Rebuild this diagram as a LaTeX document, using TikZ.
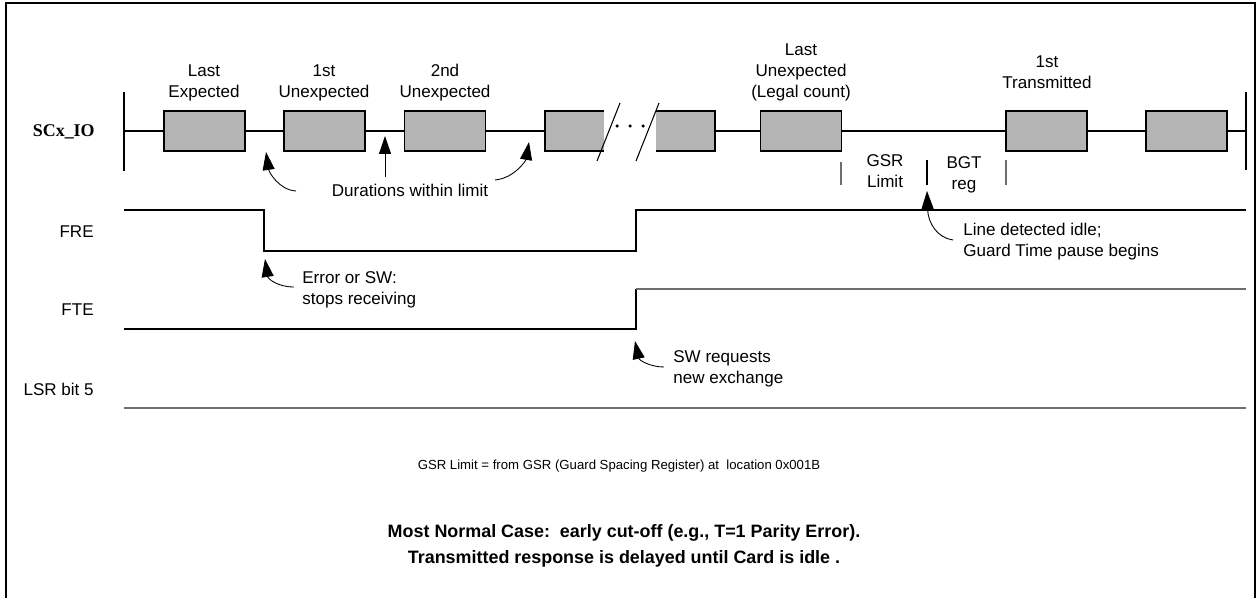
\documentclass[tikz,border=0pt]{standalone}
\usepackage{fontspec}
\setmainfont{Liberation Sans}
\newfontfamily\iofont{Liberation Serif}
\usetikzlibrary{arrows.meta}
\definecolor{boxgray}{RGB}{180,180,180}
\definecolor{tickgray}{RGB}{110,110,110}

\begin{document}
\begin{tikzpicture}[x=0.02cm,y=-0.02cm,font=\fontsize{9.7}{11.9}\selectfont,
  lbl/.style={inner sep=0pt,align=center},
  sig/.style={line width=0.6pt},
  frm/.style={line width=1.5pt},
  cell/.style={draw,fill=boxgray,line width=0.7pt,minimum width=1.62cm,minimum height=0.8cm,inner sep=0pt},
  callout/.style={-{Triangle[length=0.36cm,width=0.24cm]},line width=0.5pt}]
  \useasboundingbox (0,0) rectangle (1256,598);
  \draw[frm] (6,598) -- (6,3) -- (1255,3) -- (1255,598);
  % SCx_IO
  \node[lbl,anchor=east] (io) at (95,132) {\iofont\bfseries\fontsize{10.2}{12}\selectfont SCx\_IO};
  \coordinate (ioL) at (124,131);   \coordinate (ioR) at (1246,131);
  \coordinate (c4) at (545,131);    \coordinate (c5) at (715,131);
  \draw[sig] (124,92) -- (124,171)  (1246,92) -- (1246,170);
  \node[cell] (b1) at (204.5,131) {};   \node[cell] (b2) at (324.5,131) {};
  \node[cell] (b3) at (445,131) {};     \node[cell] (b6) at (801,131) {};
  \node[cell] (b7) at (1046.5,131) {};  \node[cell] (b8) at (1186.5,131) {};
  \fill[boxgray] (545,111) rectangle (604,151);
  \fill[boxgray] (656,111) rectangle (715,151);
  \draw[line width=0.7pt] (604,111) -- (545,111) -- (545,151) -- (604,151)
                          (656,111) -- (715,111) -- (715,151) -- (656,151);
  \draw[sig] (ioL) -- (b1) -- (b2) -- (b3) -- (c4)  (c5) -- (b6) -- (b7) -- (b8) -- (ioR);
  \draw[sig] (597,161) -- (620,103)  (636,161) -- (659,103);
  \foreach \x in {617,630,643} \fill (\x,126) circle (1pt);
  \node[lbl] (l1) at (204,82.5) {Last\\Expected};
  \node[lbl] (l2) at (324,82.5) {1st\\Unexpected};
  \node[lbl] (l3) at (445,82.5) {2nd\\Unexpected};
  \node[lbl] (l6) at (801,72) {Last\\Unexpected\\(Legal count)};
  \node[lbl] (l7) at (1047,72.5) {1st\\Transmitted};
  % guard time marks
  \draw[sig,tickgray] (841,162) -- (841,185)  (1006,160) -- (1006,185);
  \draw[sig] (927,160) -- (927,185);
  \node[lbl] (gsr) at (885,171) {GSR\\Limit};
  \node[lbl] (bgt) at (964,175) {BGT\\reg};
  % durations
  \node[lbl] (dur) at (410,190) {Durations within limit};
  \coordinate (s1) at (296,191);  \coordinate (t1) at (266,152);
  \coordinate (s2) at (385,177);  \coordinate (t2) at (385,136);
  \coordinate (s3) at (495,180);  \coordinate (t3) at (529,142);
  \draw[callout] (s1) .. controls (279,190) and (269,172) .. (t1);
  \draw[callout] (s2) -- (t2);
  \draw[callout] (s3) .. controls (515,178) and (526,160) .. (t3);
  % FRE, FTE, LSR
  \node[lbl,anchor=east] (fre) at (94,232) {FRE};
  \node[lbl,anchor=east] (fte) at (94,310) {FTE};
  \node[lbl,anchor=east] (lsr) at (94,389) {LSR bit 5};
  \draw[sig] (124,210) -- (264,210) -- (264,251) -- (636,251) -- (636,210) -- (1246,210);
  \draw[sig] (124,329) -- (636,329) -- (636,289);
  \draw[sig,tickgray] (636,289) -- (1246,289);
  \draw[sig,tickgray] (124,408) -- (1246,408);
  \node[lbl,align=left,anchor=west] (err) at (302,289.5) {Error or SW:\\stops receiving};
  \node[lbl,align=left,anchor=west] (swr) at (673,368.5) {SW requests\\new exchange};
  \node[lbl,align=left,anchor=west] (idle) at (963,242) {Line detected idle;\\Guard Time pause begins};
  \coordinate (s4) at (294,287);  \coordinate (t4) at (265,259);
  \coordinate (s5) at (664,367);  \coordinate (t5) at (635,341);
  \coordinate (s6) at (953,240);  \coordinate (t6) at (927,191);
  \draw[callout] (s4) .. controls (278,287) and (268,279) .. (t4);
  \draw[callout] (s5) .. controls (650,367) and (639,360) .. (t5);
  \draw[callout] (s6) .. controls (938,238) and (928,224) .. (t6);
  % notes
  \node[lbl,font=\fontsize{7.5}{9}\selectfont] (note) at (619,466)
    {GSR Limit = from GSR (Guard Spacing Register) at\ \ location 0x001B};
  \node[lbl,font=\fontsize{10.2}{14.7}\selectfont\bfseries] (case) at (624,546)
    {Most Normal Case:\ \ early cut-off (e.g., T=1 Parity Error).\\Transmitted response is delayed until Card is idle\ .};
\end{tikzpicture}
\end{document}
